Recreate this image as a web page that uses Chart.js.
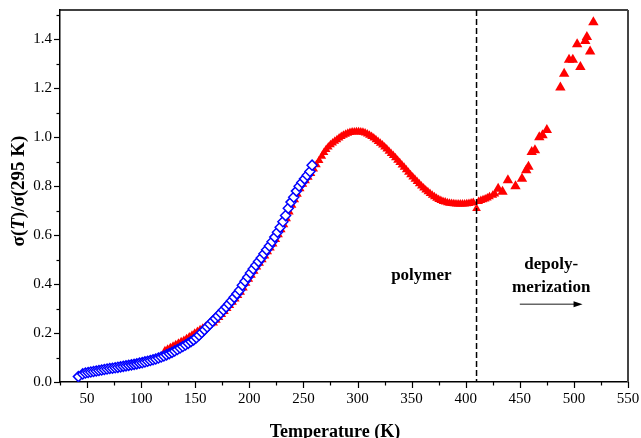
<!DOCTYPE html>
<html>
<head>
<meta charset="utf-8">
<script src="https://cdn.jsdelivr.net/npm/chart.js@4.4.0/dist/chart.umd.min.js"></script>
<style>
  html, body { margin: 0; padding: 0; background: #fff; }
  #wrap { width: 641px; height: 438px; }
</style>
</head>
<body>
<div id="wrap"><canvas id="sigmaChart" width="641" height="438"></canvas></div>
<script>
// Blue open diamonds (cooling run)
const blueTemp = [42, 46, 48.5, 51, 53.5, 56, 58.5, 61, 63.5, 66, 68.5, 71, 73.5, 76, 78.5, 81, 83.5, 86, 88.5, 91,
  93.5, 96, 98.5, 101, 103.5, 106, 108.5, 111, 113.5, 116, 118.5, 121, 123.5, 126, 128.5, 131, 133.5, 136, 138.5, 141,
  143.5, 146, 148.5, 151, 153.5, 156, 158.5, 161, 163.5, 166, 168.5, 171, 173.5, 176, 178.5, 181, 183.5, 186, 188.5, 191,
  193.5, 196, 198.5, 201, 203.5, 206, 208.5, 211, 213.5, 216, 218.5, 221, 223.5, 226, 228.5, 231, 233.5, 236, 238.5, 241,
  243.5, 246, 248.5, 251, 253.5, 256, 258];
const blueSigma = [0.022, 0.033, 0.037, 0.039, 0.041, 0.043, 0.045, 0.047, 0.049, 0.051, 0.053, 0.055, 0.056, 0.058, 0.060, 0.062, 0.064, 0.066, 0.068, 0.070,
  0.072, 0.074, 0.077, 0.079, 0.082, 0.085, 0.088, 0.091, 0.094, 0.098, 0.102, 0.106, 0.111, 0.116, 0.121, 0.127, 0.133, 0.139, 0.145, 0.151,
  0.158, 0.165, 0.172, 0.181, 0.191, 0.202, 0.213, 0.225, 0.236, 0.248, 0.259, 0.270, 0.282, 0.294, 0.306, 0.319, 0.332, 0.346, 0.360, 0.375,
  0.395, 0.412, 0.428, 0.445, 0.462, 0.477, 0.492, 0.507, 0.524, 0.540, 0.556, 0.573, 0.592, 0.612, 0.632, 0.655, 0.680, 0.710, 0.735, 0.755,
  0.780, 0.800, 0.815, 0.830, 0.845, 0.860, 0.886];

// Red filled triangles (heating run)
const redTemp = [122, 124.5, 127, 129.5, 132, 134.5, 137, 139.5, 142, 144.5, 147, 149.5, 152, 154.5, 157, 159.5, 162, 164.5, 167, 169.5,
  172, 174.5, 177, 179.5, 182, 184.5, 187, 189.5, 192, 194.5, 197, 199.5, 202, 204.5, 207, 209.5, 212, 214.5, 217, 219.5,
  222, 224.5, 227, 229.5, 232, 234.5, 237, 239.5, 242, 244.5, 247, 249.5, 252, 254.5, 257, 259.5, 262, 264.5,
  267, 269, 271, 273, 275, 277, 279, 281, 283, 285, 287, 289, 291, 293, 295, 297, 299, 301, 303, 305,
  307, 309, 311, 313, 315, 317, 319, 321, 323, 325, 327, 329, 331, 333, 335, 337, 339, 341, 343, 345,
  347, 349, 351, 353, 355, 357, 359, 361, 363, 365, 367, 369, 371, 373, 375, 377, 379, 381, 383, 385,
  387, 389, 391, 393, 395, 397, 399, 401, 403, 405, 407, 410, 412, 414, 416, 418, 420, 422, 425, 427,
  430, 434, 439, 446, 452, 456, 458, 461, 464, 468, 471, 475,
  487.5, 491, 495.5, 499, 503, 506, 510.5, 512, 515, 518];
const redSigma = [0.128, 0.134, 0.140, 0.146, 0.152, 0.158, 0.164, 0.170, 0.177, 0.184, 0.191, 0.199, 0.206, 0.213, 0.220, 0.227, 0.233, 0.238, 0.241, 0.252,
  0.264, 0.276, 0.288, 0.300, 0.313, 0.326, 0.339, 0.353, 0.367, 0.384, 0.403, 0.420, 0.436, 0.453, 0.470, 0.485, 0.500, 0.515, 0.532, 0.548,
  0.564, 0.582, 0.602, 0.622, 0.643, 0.667, 0.695, 0.722, 0.745, 0.767, 0.790, 0.808, 0.822, 0.837, 0.852, 0.870, 0.888, 0.905,
  0.922, 0.938, 0.950, 0.960, 0.969, 0.977, 0.984, 0.990, 0.997, 1.003, 1.008, 1.012, 1.016, 1.019, 1.021, 1.022, 1.023, 1.023, 1.022, 1.020,
  1.017, 1.013, 1.008, 1.003, 0.997, 0.990, 0.983, 0.976, 0.968, 0.960, 0.952, 0.943, 0.934, 0.925, 0.916, 0.906, 0.897, 0.887, 0.877, 0.867,
  0.857, 0.847, 0.838, 0.828, 0.819, 0.810, 0.801, 0.793, 0.785, 0.777, 0.770, 0.763, 0.757, 0.751, 0.746, 0.742, 0.738, 0.735, 0.732, 0.730,
  0.729, 0.728, 0.727, 0.727, 0.727, 0.727, 0.727, 0.728, 0.729, 0.731, 0.733, 0.709, 0.738, 0.742, 0.745, 0.748, 0.752, 0.757, 0.763, 0.768,
  0.790, 0.777, 0.824, 0.800, 0.830, 0.865, 0.880, 0.940, 0.947, 1.000, 1.008, 1.030,
  1.203, 1.260, 1.317, 1.317, 1.380, 1.287, 1.393, 1.410, 1.350, 1.470];

// Labelled ticks
const xTickLabels = [50, 100, 150, 200, 250, 300, 350, 400, 450, 500, 550];
const yTickLabels = [0.0, 0.2, 0.4, 0.6, 0.8, 1.0, 1.2, 1.4];

// Phase boundary
const boundaryTemp = 410;

const serif = '"Liberation Serif", "Times New Roman", serif';
Chart.defaults.font.family = serif;
Chart.defaults.color = '#000';

const toPoints = (xs, ys) => xs.map((t, i) => ({ x: t, y: ys[i] }));

// Draws frame, tick marks, titles and the annotations
const decorPlugin = {
  id: 'decor',
  afterDraw(chart) {
    const { ctx, chartArea: a, scales: { x, y } } = chart;
    ctx.save();

    // top + right frame
    ctx.lineWidth = 1.5;
    ctx.strokeStyle = '#000';
    ctx.beginPath();
    ctx.moveTo(a.left, a.top);
    ctx.lineTo(a.right, a.top);
    ctx.stroke();
    ctx.strokeStyle = '#444';
    ctx.lineWidth = 2;
    ctx.beginPath();
    ctx.moveTo(a.right, a.top);
    ctx.lineTo(a.right, a.bottom);
    ctx.stroke();

    // outward tick marks, major longer than minor
    ctx.strokeStyle = '#000';
    ctx.lineWidth = 1.2;
    x.ticks.forEach(t => {
      const px = Math.round(x.getPixelForValue(t.value)) + 0.5;
      const len = xTickLabels.includes(t.value) ? 6 : 3.5;
      ctx.beginPath();
      ctx.moveTo(px, a.bottom);
      ctx.lineTo(px, a.bottom + len);
      ctx.stroke();
    });
    y.ticks.forEach(t => {
      const py = Math.round(y.getPixelForValue(t.value)) + 0.5;
      const major = Math.round(t.value * 10) % 2 === 0;
      ctx.beginPath();
      ctx.moveTo(a.left, py);
      ctx.lineTo(a.left - (major ? 6 : 3.5), py);
      ctx.stroke();
    });

    // dashed boundary line
    const bx = x.getPixelForValue(boundaryTemp);
    ctx.setLineDash([6, 3]);
    ctx.lineWidth = 1.5;
    ctx.beginPath();
    ctx.moveTo(bx, a.top);
    ctx.lineTo(bx, a.bottom);
    ctx.stroke();
    ctx.setLineDash([]);

    // region labels
    ctx.fillStyle = '#000';
    ctx.font = 'bold 17px ' + serif;
    ctx.textAlign = 'center';
    ctx.textBaseline = 'middle';
    ctx.fillText('polymer', x.getPixelForValue(359), y.getPixelForValue(0.434));
    ctx.fillText('depoly-', x.getPixelForValue(479), y.getPixelForValue(0.478));
    ctx.fillText('merization', x.getPixelForValue(479), y.getPixelForValue(0.384));

    // arrow
    const ay = y.getPixelForValue(0.318);
    const ax0 = x.getPixelForValue(450);
    const ax1 = x.getPixelForValue(508);
    ctx.strokeStyle = '#666';
    ctx.lineWidth = 1.5;
    ctx.beginPath();
    ctx.moveTo(ax0, ay);
    ctx.lineTo(ax1 - 6, ay);
    ctx.stroke();
    ctx.fillStyle = '#000';
    ctx.beginPath();
    ctx.moveTo(ax1, ay);
    ctx.lineTo(ax1 - 9, ay - 3);
    ctx.lineTo(ax1 - 9, ay + 3);
    ctx.closePath();
    ctx.fill();

    // x title
    ctx.font = 'bold 18px ' + serif;
    ctx.fillText('Temperature (K)', (a.left + a.right) / 2 - 9, 432);

    // y title with italic T
    const parts = [
      { s: '\u03c3(', f: 'bold 19px ' + serif },
      { s: 'T', f: 'italic bold 19px ' + serif },
      { s: ')/\u03c3(295 K)', f: 'bold 19px ' + serif }
    ];
    let total = 0;
    parts.forEach(p => { ctx.font = p.f; p.w = ctx.measureText(p.s).width; total += p.w; });
    ctx.translate(19, (a.top + a.bottom) / 2 - 5);
    ctx.rotate(-Math.PI / 2);
    ctx.textAlign = 'left';
    let cx = -total / 2;
    parts.forEach(p => { ctx.font = p.f; ctx.fillText(p.s, cx, 0); cx += p.w; });

    ctx.restore();
  }
};

const chart = new Chart(document.getElementById('sigmaChart'), {
  type: 'scatter',
  data: {
    datasets: [
      {
        label: 'cooling',
        data: toPoints(blueTemp, blueSigma),
        pointStyle: 'rectRot',
        pointRadius: 5,
        borderColor: '#0000ff',
        backgroundColor: '#ffffff',
        borderWidth: 1.5
      },
      {
        label: 'heating',
        data: toPoints(redTemp, redSigma),
        pointStyle: 'triangle',
        pointRadius: ctx => (ctx.raw && ctx.raw.x > 428 ? 6 : 5),
        borderColor: '#ff0000',
        backgroundColor: '#ff0000',
        borderWidth: 0
      }
    ]
  },
  options: {
    responsive: false,
    animation: false,
    layout: { padding: { top: 10, right: 13, left: 0, bottom: 0 } },
    plugins: {
      legend: { display: false },
      tooltip: { enabled: false }
    },
    scales: {
      x: {
        type: 'linear',
        min: 25,
        max: 550,
        grid: { display: false, drawTicks: false },
        border: { display: true, color: '#000', width: 1.5 },
        ticks: {
          stepSize: 25,
          includeBounds: false,
          autoSkip: false,
          maxRotation: 0,
          padding: 8,
          font: { size: 15 },
          callback: v => xTickLabels.includes(v) ? String(v) : ''
        },
        afterFit: scale => {
          scale.height = 56;
          scale.paddingLeft = 0;
          scale.paddingRight = 0;
        }
      },
      y: {
        type: 'linear',
        min: 0,
        max: 1.52,
        grid: { display: false, drawTicks: false },
        border: { display: true, color: '#000', width: 1.5 },
        ticks: {
          stepSize: 0.1,
          includeBounds: false,
          autoSkip: false,
          padding: 8,
          font: { size: 15 },
          callback: v => {
            const k = Math.round(v * 10);
            return k % 2 === 0 && yTickLabels.includes(k / 10) ? (k / 10).toFixed(1) : '';
          }
        },
        afterFit: scale => {
          scale.width = 60;
          scale.paddingTop = 0;
          scale.paddingBottom = 0;
        }
      }
    }
  },
  plugins: [decorPlugin]
});
</script>
</body>
</html>
